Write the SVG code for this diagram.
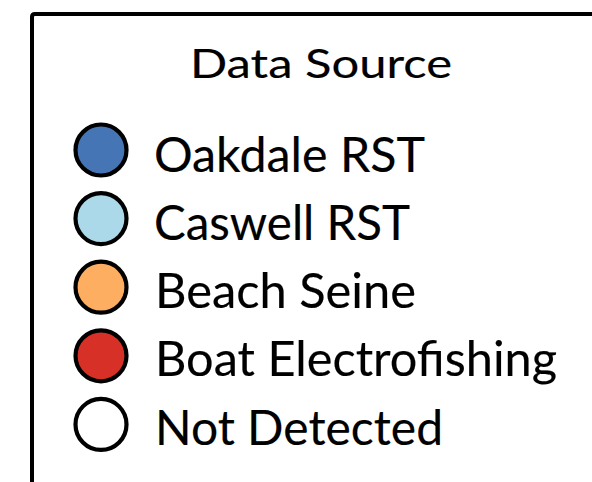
<svg xmlns="http://www.w3.org/2000/svg" width="592" height="482" viewBox="0 0 592 482">
<style>
.frame{fill:none;stroke:#000;stroke-width:4;stroke-linejoin:round}
.dot{stroke:#000;stroke-width:4.2}
.lbl{font-family:Lato,"Liberation Sans",sans-serif;font-size:47.5px;fill:#000;stroke:#000;stroke-width:0.15}
.ttl{font-family:Lato,"Liberation Sans",sans-serif;font-size:40px;fill:#000;stroke:#000;stroke-width:0.15}
</style>
<rect width="592" height="482" fill="#fff"/>
<g id="legend-frame">
<path class="frame" d="M32 490 V17 Q32 14 35 14 H600"/>
</g>
<g id="title"><text class="ttl" x="190" y="78" textLength="262" lengthAdjust="spacingAndGlyphs">Data Source</text></g>
<g id="oakdale"><circle class="dot" cx="101" cy="150" r="25.5" fill="#4575b4"/><text class="lbl" x="154" y="172" textLength="271" lengthAdjust="spacingAndGlyphs">Oakdale RST</text></g>
<g id="caswell"><circle class="dot" cx="101" cy="218.6" r="25.5" fill="#abd9e9"/><text class="lbl" x="154" y="240" textLength="256" lengthAdjust="spacingAndGlyphs">Caswell RST</text></g>
<g id="beach"><circle class="dot" cx="101" cy="287.2" r="25.5" fill="#fdae61"/><text class="lbl" x="155" y="308" textLength="261" lengthAdjust="spacingAndGlyphs">Beach Seine</text></g>
<g id="boat"><circle class="dot" cx="101" cy="355.8" r="25.5" fill="#d73027"/><text class="lbl" x="155" y="376" textLength="402" lengthAdjust="spacingAndGlyphs">Boat Electrofishing</text></g>
<g id="notdetected"><circle class="dot" cx="101" cy="424.4" r="25.5" fill="#fff"/><text class="lbl" x="155" y="445" textLength="288" lengthAdjust="spacingAndGlyphs">Not Detected</text></g>
<g id="connectors"/>
</svg>
